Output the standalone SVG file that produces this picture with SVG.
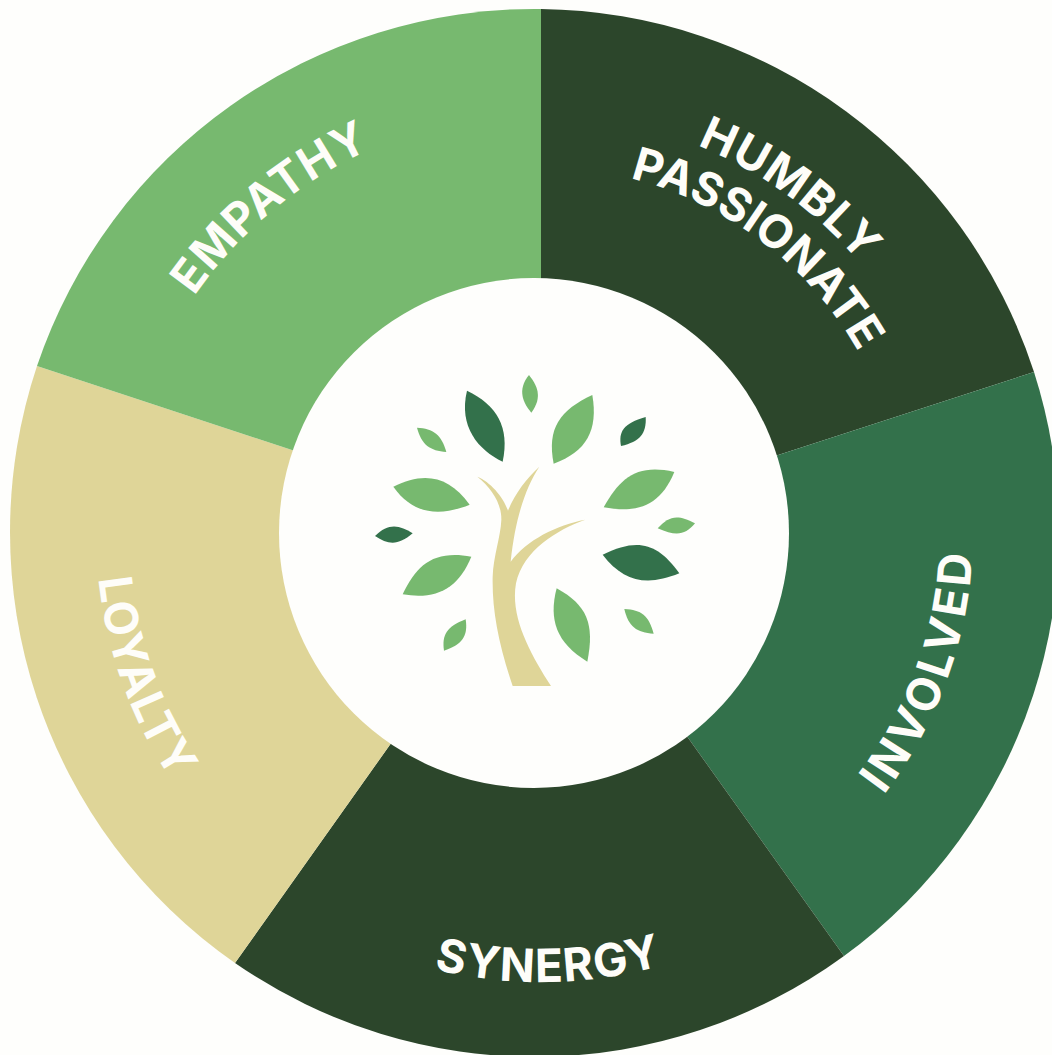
<svg xmlns="http://www.w3.org/2000/svg" width="1052" height="1055" viewBox="0 0 1052 1055">
<style>
.t{font-family:Inter,"Liberation Sans",sans-serif;font-weight:700;font-size:46px;letter-spacing:1.2px;fill:#fefdf9;text-anchor:middle}
.w{letter-spacing:3.8px}
.n{letter-spacing:.3px}
.d{fill:#2c462b}.m{fill:#33714b}.l{fill:#77b96f}.y{fill:#dfd598}
</style>
<defs>
<path id="pe" d="M208.5 809A433 433 0 0 1 873.5 255"/>
<path id="ph" d="M203.6 286.8A417 417 0 0 1 878.4 777.2"/>
<path id="pp" d="M250.6 310.8A365 365 0 0 1 831.4 753.2"/>
<path id="pi" d="M393.3 938A432 432 0 0 0 688.7 126"/>
<path id="ps" d="M91 539.9A450 450 0 0 0 991 524.1"/>
<path id="py" d="M388.8 113.8A445 445 0 0 0 693.2 950.2"/>
</defs>
<rect width="1052" height="1055" fill="#fefefc"/>
<g id="segments">
<path id="seg-humbly" class="d" d="M541 532V9A525 525 0 0 1 1034 372Z"/>
<path id="seg-involved" class="m" d="M541 532L1034 372A525 525 0 0 1 844 956Z"/>
<path id="seg-synergy" class="d" d="M541 532L844 956A525 525 0 0 1 235 963Z"/>
<path id="seg-loyalty" class="y" d="M541 532L235 963A525 525 0 0 1 37 366Z"/>
<path id="seg-empathy" class="l" d="M541 532L37 366A525 525 0 0 1 541 9Z"/>
</g>
<circle id="hub" cx="534" cy="533" r="255" fill="#fefefc"/>
<g id="tree" transform="translate(360 360) scale(.33333)">
<path class="y" d="M458 978C415 850 396 750 398 650C400 590 422 530 424 480C425 430 395 385 352 350C390 365 430 410 444 452C465 400 500 355 538 320C495 385 465 480 452 605C500 540 590 495 676 479C590 510 490 570 468 670C450 770 510 880 573 978Z"/>
<path class="l" d="M507 45C470 90 490 130 514 158C550 110 530 75 507 45Z"/>
<path class="m" d="M321 92C295 200 355 270 428 305C450 200 410 135 321 92Z"/>
<path class="l" d="M697 105C600 150 560 205 581 311C680 275 715 210 697 105Z"/>
<path class="m" d="M857 171C790 190 775 215 783 258C840 245 860 220 857 171Z"/>
<path class="l" d="M171 203C185 255 210 272 259 276C245 225 220 205 171 203Z"/>
<path class="l" d="M100 380C190 335 265 345 329 434C240 470 160 465 100 380Z"/>
<path class="l" d="M943 336C830 310 780 355 731 442C830 460 900 440 943 336Z"/>
<path class="m" d="M45 528C85 487 120 495 158 520C115 557 85 555 45 528Z"/>
<path class="l" d="M1005 490C950 460 925 470 893 505C950 530 975 525 1005 490Z"/>
<path class="m" d="M728 584C830 535 890 545 958 640C860 680 790 665 728 584Z"/>
<path class="l" d="M334 590C220 570 170 615 128 703C230 720 295 685 334 590Z"/>
<path class="l" d="M317 778C260 800 245 825 252 872C305 855 325 830 317 778Z"/>
<path class="l" d="M590 685C565 780 590 850 682 905C705 790 680 735 590 685Z"/>
<path class="l" d="M793 747C805 800 830 818 881 821C865 765 845 750 793 747Z"/>
</g>
<g id="labels">
<text class="t"><textPath href="#pe" startOffset="50%">EMPATHY</textPath></text>
<text class="t"><textPath href="#ph" startOffset="50%">HUMBLY</textPath></text>
<text class="t n"><textPath href="#pp" startOffset="50%">PASSIONATE</textPath></text>
<text class="t w"><textPath href="#pi" startOffset="50%">INVOLVED</textPath></text>
<text class="t"><textPath href="#ps" startOffset="50%">SYNERGY</textPath></text>
<text class="t"><textPath href="#py" startOffset="50%">LOYALTY</textPath></text>
</g>
</svg>
